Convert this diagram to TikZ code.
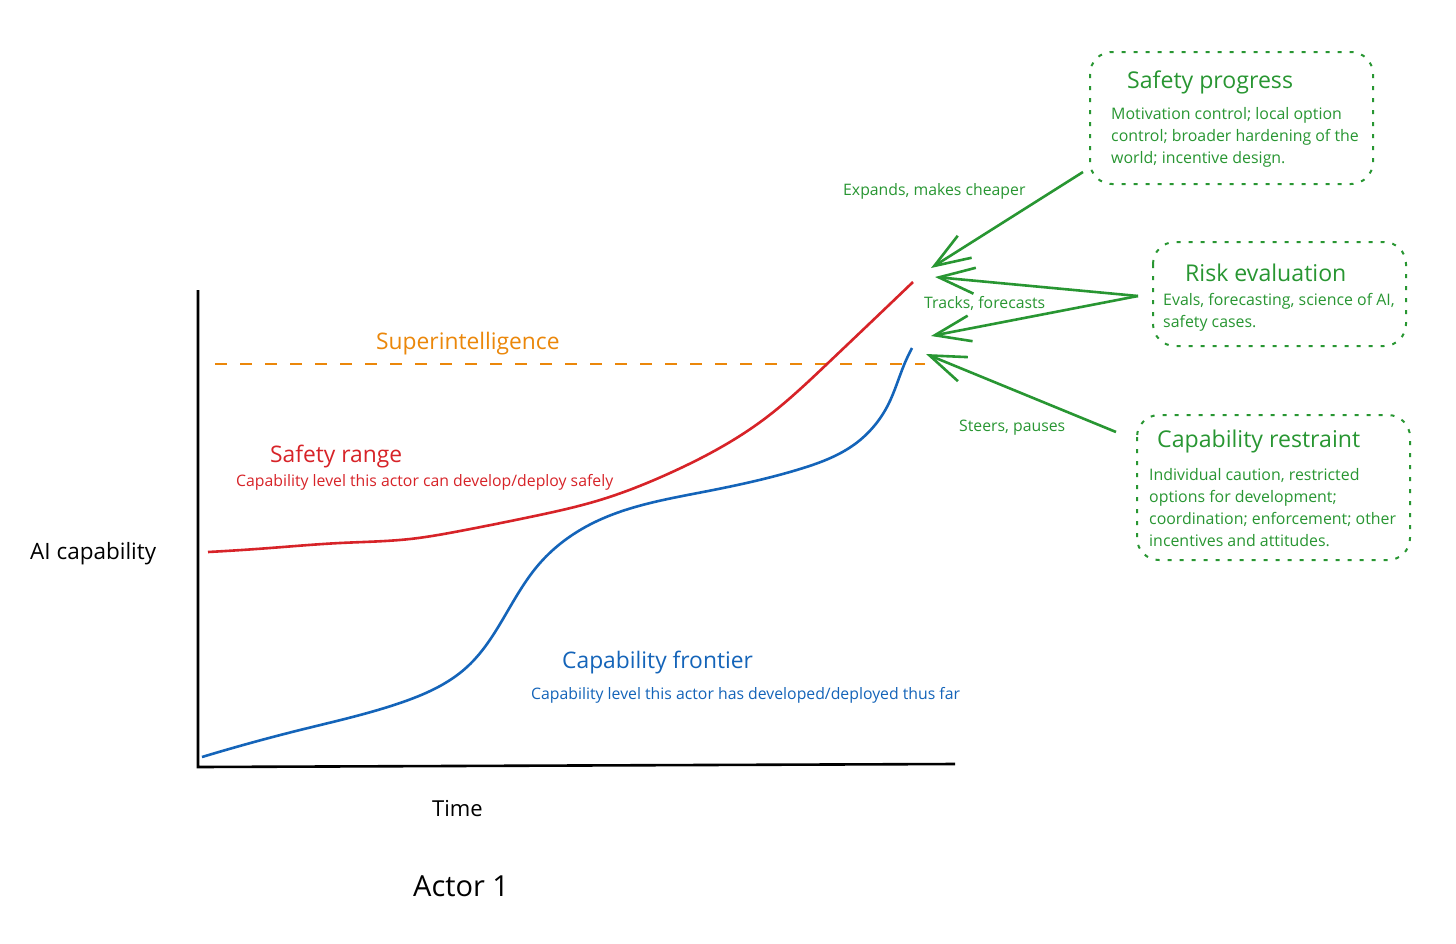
\documentclass[tikz,border=0pt]{standalone}
\usepackage{fontspec}
\setmainfont{Open Sans}
\usetikzlibrary{arrows.meta,hobby}
\definecolor{grn}{RGB}{40,150,50}
\definecolor{redc}{RGB}{215,35,40}
\definecolor{bluc}{RGB}{20,100,185}
\definecolor{orng}{RGB}{235,135,10}
\tikzset{
  txt/.style={anchor=base west, inner sep=0pt},
  big/.style={txt, font=\fontsize{22.8}{26}\selectfont},
  small/.style={txt, font=\fontsize{15.8}{18}\selectfont},
  boxtitle/.style={txt, text=grn, font=\fontsize{23.1}{26}\selectfont},
  boxbody/.style={txt, text=grn, font=\fontsize{15.9}{18}\selectfont},
  greenbox/.style={draw=grn, line width=2pt, rounded corners=22pt, dash pattern=on 4pt off 8pt},
  infl/.style={draw=grn, line width=2.6pt, -{Straight Barb[length=36pt,width=26pt,line width=2.6pt]}},
  axis/.style={draw=black, line width=2.6pt},
}
\begin{document}
\begin{tikzpicture}[x=1pt,y=-1pt]
\useasboundingbox (0,0) rectangle (1456,943);
\fill[white] (0,0) rectangle (1456,943);

% axes
\coordinate (top) at (198,290);
\coordinate (origin) at (198,767);
\coordinate (xend) at (955,764);
\draw[axis] (top) -- (origin) -- (xend);

% superintelligence line
\coordinate (si1) at (215,364);
\coordinate (si2) at (925,364);
\draw[orng, line width=2pt, dash pattern=on 12pt off 13pt] (si1) -- (si2);

% safety range curve
\draw[redc, line width=2.6pt, use Hobby shortcut]
 (208,552) .. (270,548) .. (340,543) .. (410,539) .. (460,531) .. (530,517) .. (600,500)
 .. (670,473) .. (763,420) .. (827,364) .. (913,282);

% capability frontier curve
\draw[bluc, line width=2.6pt, use Hobby shortcut]
 (202,757) .. (300,730) .. (400,703) .. (467,667) .. (510,607)
 .. (540,563) .. (593,523) .. (703,492) .. (800,469) .. (855,444)
 .. (888,405) .. (904,365) .. (912,348);

% axis labels
\node[txt, font=\fontsize{22.5}{26}\selectfont] (ylab) at (30,559) {AI capability};
\node[txt, font=\fontsize{22}{26}\selectfont] (xlab) at (432,816) {Time};
\node[txt, font=\fontsize{29}{33}\selectfont] (actor) at (413,896) {Actor 1};

% curve labels
\node[big, text=orng] (sil) at (376,349) {Superintelligence};
\node[big, text=redc] (srl) at (270,462) {Safety range};
\node[small, text=redc] (srd) at (236,486) {Capability level this actor can develop/deploy safely};
\node[big, text=bluc] (cfl) at (562,668) {Capability frontier};
\node[small, text=bluc] (cfd) at (531,699) {Capability level this actor has developed/deployed thus far};

% boxes
\draw[greenbox] (1090,52) rectangle (1373,184);
\node[boxtitle] (sp) at (1127,88) {Safety progress};
\node[boxbody] (sp1) at (1111,119) {Motivation control; local option};
\node[boxbody] (sp2) at (1111,141) {control; broader hardening of the};
\node[boxbody] (sp3) at (1111,163) {world; incentive design.};

\draw[greenbox] (1153,242) rectangle (1406,346);
\node[boxtitle] (re) at (1185,281) {Risk evaluation};
\node[boxbody] (re1) at (1163,305) {Evals, forecasting, science of AI,};
\node[boxbody] (re2) at (1163,327) {safety cases.};

\draw[greenbox] (1137,415) rectangle (1410,560);
\node[boxtitle] (cr) at (1157,447) {Capability restraint};
\node[boxbody] (cr1) at (1149,480) {Individual caution, restricted};
\node[boxbody] (cr2) at (1149,502) {options for development;};
\node[boxbody] (cr3) at (1149,524) {coordination; enforcement; other};
\node[boxbody] (cr4) at (1149,546) {incentives and attitudes.};

% influence arrows
\coordinate (spout) at (1083,172);
\coordinate (reout) at (1138,296);
\coordinate (crout) at (1116,432);
\coordinate (tipa) at (931,268);
\coordinate (tipb) at (935,277);
\coordinate (tipc) at (931,336);
\coordinate (tipd) at (926,354);
\draw[infl] (spout) -- (tipa);
\draw[infl] (reout) -- (tipb);
\draw[infl] (reout) -- (tipc);
\draw[infl] (crout) -- (tipd);

\node[small, text=grn] (l1) at (843,195) {Expands, makes cheaper};
\node[small, text=grn] (l2) at (924,308) {Tracks, forecasts};
\node[small, text=grn] (l3) at (959,431) {Steers, pauses};
\end{tikzpicture}
\end{document}
